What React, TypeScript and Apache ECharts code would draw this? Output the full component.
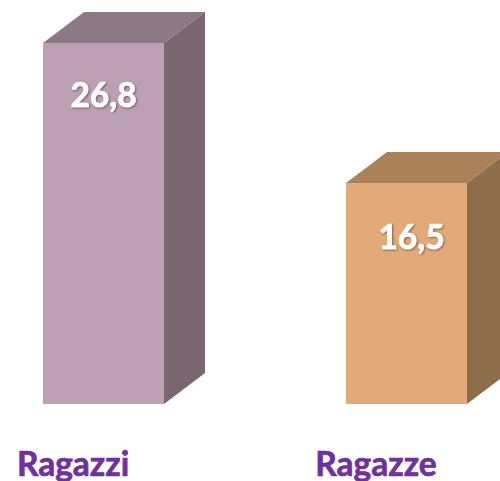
import React, { useEffect, useRef } from "react";
import * as echarts from "echarts";

const categories = ["Ragazzi", "Ragazze"];
const values = [26.8, 16.5];
const frontColors = ["#BEA0B4", "#E1AA78"];
const topColors = ["#8F7886", "#AB8159"];
const sideColors = ["#7A6571", "#8D6D4C"];

const BAR_W = 121;
const DEPTH_X = 41;
const DEPTH_Y = 31;
const BAR_SHIFT = 30.5;
const AXIS_MIN = 0.24;
const AXIS_MAX = 29.7;

export default function App() {
  const ref = useRef<HTMLDivElement>(null);
  useEffect(() => {
    const chart = echarts.init(ref.current!, null, { renderer: "svg" });
    chart.setOption({
      animation: false,
      backgroundColor: "#ffffff",
      grid: { left: 73, width: 303, top: 3.6, height: 400.4 },
      xAxis: {
        type: "category",
        data: categories,
        boundaryGap: false,
        axisLine: { show: false },
        axisTick: { show: false },
        splitLine: { show: false },
        axisLabel: {
          interval: 0,
          margin: 42,
          color: "#7030A0",
          fontFamily: "Lato",
          fontWeight: "bold",
          fontSize: 33.5,
          textBorderColor: "#7030A0",
          textBorderWidth: 0.7,
        },
      },
      yAxis: { type: "value", min: AXIS_MIN, max: AXIS_MAX, show: false },
      series: [
        {
          type: "custom",
          clip: false,
          data: values.map((v, i) => [i, v]),
          encode: { x: 0, y: 1 },
          renderItem: (params: any, api: any) => {
            const i = api.value(0);
            const v = api.value(1);
            const [cx, yTop] = api.coord([i, v]);
            const [, yBase] = api.coord([i, AXIS_MIN]);
            const x0 = cx + BAR_SHIFT - BAR_W / 2;
            const x1 = x0 + BAR_W;
            return {
              type: "group",
              children: [
                {
                  type: "rect",
                  shape: { x: x0, y: yTop, width: BAR_W, height: yBase - yTop },
                  style: { fill: frontColors[i] },
                },
                {
                  type: "polygon",
                  shape: {
                    points: [
                      [x0, yTop],
                      [x0 + DEPTH_X, yTop - DEPTH_Y],
                      [x1 + DEPTH_X, yTop - DEPTH_Y],
                      [x1, yTop],
                    ],
                  },
                  style: { fill: topColors[i] },
                },
                {
                  type: "polygon",
                  shape: {
                    points: [
                      [x1, yTop],
                      [x1 + DEPTH_X, yTop - DEPTH_Y],
                      [x1 + DEPTH_X, yBase - DEPTH_Y],
                      [x1, yBase],
                    ],
                  },
                  style: { fill: sideColors[i] },
                },
                {
                  type: "text",
                  x: x0 + BAR_W / 2 + (i === 1 ? 5 : 0),
                  y: yTop + (i === 1 ? 53 : 51),
                  style: {
                    text: String(v).replace(".", ","),
                    fill: "#ffffff",
                    stroke: "#ffffff",
                    lineWidth: 0.7,
                    fontFamily: "Lato",
                    fontWeight: "bold",
                    fontSize: 33.5,
                    align: "center",
                    verticalAlign: "middle",
                    textShadowColor: "rgba(0,0,0,0.45)",
                    textShadowBlur: 2,
                    textShadowOffsetX: 1,
                    textShadowOffsetY: 1,
                  },
                },
              ],
            };
          },
        },
      ],
    });
    return () => chart.dispose();
  }, []);
  return <div ref={ref} style={{ position: "fixed", left: 0, top: 0, width: 500, height: 481 }} />;
}
